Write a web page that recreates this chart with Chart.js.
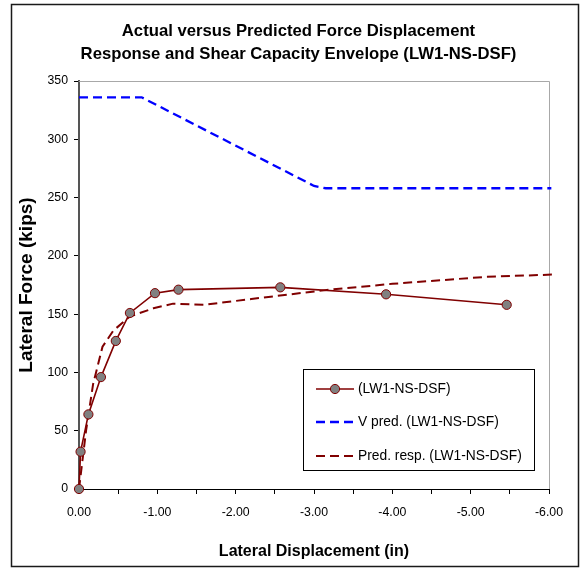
<!DOCTYPE html>
<html>
<head>
<meta charset="utf-8">
<script src="https://cdn.jsdelivr.net/npm/chart.js@4.4.1/dist/chart.umd.min.js"></script>
<style>
  html, body { margin: 0; padding: 0; background: #fff; }
  #wrap { width: 581px; height: 571px; }
</style>
</head>
<body>
<div id="wrap"><canvas id="chart" width="581" height="571"></canvas></div>
<script>
// ---- text ----
const titleLines = ['Actual versus Predicted Force Displacement',
                    'Response and Shear Capacity Envelope (LW1-NS-DSF)'];
const xAxisTitle = 'Lateral Displacement (in)';
const yAxisTitle = 'Lateral Force (kips)';
const seriesLabels = ['(LW1-NS-DSF)', 'V pred. (LW1-NS-DSF)', 'Pred. resp. (LW1-NS-DSF)'];

// ---- measured response (in, kips) ----
const actualDisp  = [0, -0.02, -0.12, -0.28, -0.47, -0.65, -0.97, -1.27, -2.57, -3.92, -5.46];
const actualForce = [0, 32, 64, 96, 127, 151, 168, 171, 173, 167, 158];

// ---- predicted shear capacity envelope ----
const vPredDisp  = [0, -0.80, -3.00, -3.15, -6.03];
const vPredForce = [336, 336, 260, 258, 258];

// ---- predicted force-displacement response ----
const predRespDisp  = [0, -0.09, -0.18, -0.30, -0.44, -0.65, -0.95, -1.20, -1.60, -2.20, -3.20, -4.00, -5.20, -6.08];
const predRespForce = [0, 50, 90, 122, 136, 148, 155, 159, 158, 163, 171, 176, 182, 184];

// ---- axis ranges ----
const xMin = -6, xMax = 0, xStep = 0.5;
const yMin = 0, yMax = 350, yStep = 50;

const FONT = '"Liberation Sans", Arial, Helvetica, sans-serif';
const DARK_RED = '#800000';

const toPoints = (xs, ys) => xs.map((x, i) => ({ x: x, y: ys[i] }));

// white background, outer frame, and the title
const framePlugin = {
  id: 'frame',
  beforeDraw(chart) {
    const ctx = chart.ctx;
    ctx.save();
    ctx.fillStyle = '#fff';
    ctx.fillRect(0, 0, chart.width, chart.height);
    ctx.restore();
  },
  beforeDatasetsDraw(chart) {
    // grey plot-area border on the top and right sides
    const { ctx, chartArea: a } = chart;
    ctx.save();
    ctx.strokeStyle = '#a8a8a8';
    ctx.lineWidth = 1;
    ctx.beginPath();
    ctx.moveTo(a.left, a.top + 0.5);
    ctx.lineTo(a.right + 0.5, a.top + 0.5);
    ctx.lineTo(a.right + 0.5, a.bottom);
    ctx.stroke();
    ctx.restore();
  },
  afterDraw(chart) {
    const ctx = chart.ctx;
    ctx.save();
    ctx.strokeStyle = '#1a1a1a';
    ctx.lineWidth = 1.5;
    ctx.strokeRect(11.5, 4.5, 567, 562);
    ctx.fillStyle = '#000';
    ctx.font = 'bold 16.7px ' + FONT;
    ctx.textAlign = 'center';
    ctx.textBaseline = 'alphabetic';
    ctx.fillText(titleLines[0], 298.5, 36);
    ctx.fillText(titleLines[1], 298.5, 59);
    ctx.restore();
  }
};

// boxed legend inside the plot area
const boxLegendPlugin = {
  id: 'boxLegend',
  afterDraw(chart) {
    const ctx = chart.ctx;
    const box = { x: 303.5, y: 369.5, w: 231, h: 101 };
    const rowY = [389, 422, 456];
    ctx.save();
    ctx.fillStyle = '#fff';
    ctx.fillRect(box.x, box.y, box.w, box.h);
    ctx.strokeStyle = '#000';
    ctx.lineWidth = 1;
    ctx.strokeRect(box.x, box.y, box.w, box.h);
    chart.data.datasets.forEach((ds, i) => {
      const y = rowY[i];
      ctx.strokeStyle = ds.borderColor;
      ctx.lineWidth = ds.borderWidth;
      ctx.setLineDash(ds.borderDash || []);
      ctx.beginPath();
      ctx.moveTo(316, y);
      ctx.lineTo(354, y);
      ctx.stroke();
      ctx.setLineDash([]);
      if (ds.pointRadius > 0) {
        ctx.beginPath();
        ctx.arc(335, y, ds.pointRadius, 0, Math.PI * 2);
        ctx.fillStyle = ds.pointBackgroundColor;
        ctx.fill();
        ctx.lineWidth = ds.pointBorderWidth;
        ctx.strokeStyle = ds.pointBorderColor;
        ctx.stroke();
      }
      ctx.fillStyle = '#000';
      ctx.font = '13.8px ' + FONT;
      ctx.textAlign = 'left';
      ctx.textBaseline = 'middle';
      ctx.fillText(ds.label, 358, y + 0.5);
    });
    ctx.restore();
  }
};

new Chart(document.getElementById('chart'), {
  type: 'scatter',
  data: {
    datasets: [
      {
        label: seriesLabels[0],
        data: toPoints(actualDisp, actualForce),
        showLine: true,
        borderColor: DARK_RED,
        borderWidth: 1.6,
        pointRadius: 4.6,
        pointHoverRadius: 4.6,
        pointBackgroundColor: '#808080',
        pointBorderColor: DARK_RED,
        pointBorderWidth: 1,
        tension: 0,
        clip: false
      },
      {
        label: seriesLabels[1],
        data: toPoints(vPredDisp, vPredForce),
        showLine: true,
        borderColor: '#0000ff',
        borderWidth: 2.3,
        borderDash: [9, 5],
        pointRadius: 0,
        pointHoverRadius: 0,
        tension: 0,
        clip: false
      },
      {
        label: seriesLabels[2],
        data: toPoints(predRespDisp, predRespForce),
        showLine: true,
        borderColor: DARK_RED,
        borderWidth: 2,
        borderDash: [9, 5],
        pointRadius: 0,
        pointHoverRadius: 0,
        tension: 0,
        clip: false
      }
    ]
  },
  options: {
    responsive: false,
    animation: false,
    devicePixelRatio: 1,
    layout: { padding: { top: 81, right: 32, bottom: 0, left: 0 } },
    plugins: {
      legend: { display: false },
      title: { display: false },
      tooltip: { enabled: false }
    },
    scales: {
      x: {
        type: 'linear',
        reverse: true,
        min: xMin,
        max: xMax,
        afterFit(scale) { scale.height = 82; },
        border: { display: true, color: '#000', width: 1 },
        grid: { display: true, drawOnChartArea: false, drawTicks: true, tickLength: 5, tickColor: '#000' },
        ticks: {
          stepSize: xStep,
          autoSkip: false,
          maxRotation: 0,
          padding: 11,
          color: '#000',
          font: { family: FONT, size: 12.3 },
          callback: v => (Math.abs(v - Math.round(v)) < 1e-9 ? Number(v).toFixed(2) : '')
        },
        title: {
          display: true,
          text: xAxisTitle,
          color: '#000',
          font: { family: FONT, size: 16, weight: 'bold' },
          padding: { top: 0, bottom: 10 }
        }
      },
      y: {
        type: 'linear',
        min: yMin,
        max: yMax,
        afterFit(scale) { scale.width = 79; },
        border: { display: true, color: '#555', width: 2 },
        grid: { display: true, drawOnChartArea: false, drawTicks: true, tickLength: 5, tickColor: '#000' },
        ticks: {
          stepSize: yStep,
          padding: 6,
          color: '#000',
          font: { family: FONT, size: 12.3 }
        },
        title: {
          display: true,
          text: yAxisTitle,
          color: '#000',
          font: { family: FONT, size: 19, weight: 'bold' },
          padding: { top: 15, bottom: 0 }
        }
      }
    }
  },
  plugins: [framePlugin, boxLegendPlugin]
});
</script>
</body>
</html>
